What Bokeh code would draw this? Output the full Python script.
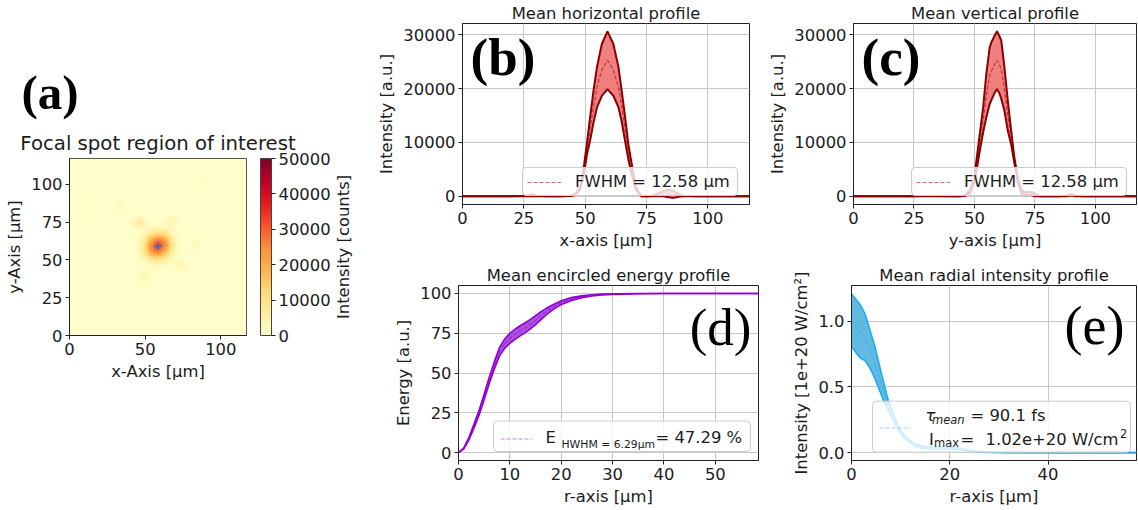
import numpy as np
from bokeh.plotting import figure
from bokeh.models import (Range1d, LinearColorMapper, ColorBar, Label, Legend, BoxAnnotation,
                          LegendItem, NumeralTickFormatter, FixedTicker, Title)
from bokeh.layouts import row, column
from bokeh.embed import file_html
from bokeh.resources import INLINE
from bokeh.palettes import YlOrRd9

SANS = "DejaVu Sans"
SERIF = "Liberation Serif"
INK = "#1c1c1c"
FS = "16.4px"

# ---------------- data ----------------
# (a) focal spot region of interest: spots
roi_size = 117.0
spot_x   = [58.5, 62.5, 54.5, 45.9, 68.0, 33.8, 83.4, 73.5, 49.2, 12.8, 89.0, 20.5]
spot_y   = [59.2, 63.0, 55.5, 74.7, 75.8, 85.7, 60.5, 46.1, 38.4, 83.5, 104.0, 31.8]
spot_amp = [29000, 3500, 3500, 6500, 3500, 2200, 2500, 3000, 3000, 1300, 1100, 900]
spot_sx  = [5.8, 4.2, 4.2, 3.2, 3.0, 3.0, 2.8, 3.5, 3.0, 3.0, 3.0, 3.0]
spot_sy  = [5.8, 4.2, 4.2, 2.8, 3.0, 2.5, 3.0, 3.0, 3.5, 3.0, 3.0, 3.0]
centre_x = [58.5]
centre_y = [59.2]
cbar_ticks = [0, 10000, 20000, 30000, 40000, 50000]
a_xticks = [0, 50, 100]
a_yticks = [0, 25, 50, 75, 100]

# (b) mean horizontal profile
h_x     = [0, 10, 20, 24, 26, 28, 30, 34, 40, 44, 46, 48, 49.6, 50.7, 52, 53.4, 54.8, 56.8, 59.1, 61.5,
           63.6, 64.9, 66.3, 67.6, 69, 70.7, 73, 76, 78, 80, 82, 84, 86, 88, 90, 95, 100, 110, 117]
h_upper = [0, 0, 0, 30, 150, 350, 150, 0, 0, 100, 400, 1700, 5960, 9690, 14660, 19620, 23980, 28320, 30680, 28320,
           23980, 19620, 14660, 9690, 5960, 1620, 0, 0, 200, 600, 1000, 1200, 1000, 500, 100, 0, 0, 0, 0]
h_lower = [0, 0, 0, 0, 0, 0, 0, 0, 0, 30, 250, 1300, 4400, 7700, 10300, 13700, 16520, 18690, 19930, 18690,
           16520, 13900, 10200, 6900, 4000, 1200, 0, 0, 0, 50, 0, -200, -300, -100, 0, 0, 0, 0, 0]
h_mean  = [0, 0, 0, 15, 75, 175, 75, 0, 0, 65, 325, 1500, 5180, 8700, 12480, 16660, 20250, 23500, 25300, 23500,
           20250, 16760, 12430, 8300, 4980, 1410, 0, 0, 100, 350, 500, 500, 350, 200, 50, 0, 0, 0, 0]

# (c) mean vertical profile
v_x     = [0, 10, 20, 25, 30, 35, 40, 44, 46, 48, 49.9, 50.8, 52.2, 53.6, 54.9, 56.3, 57, 58.2, 59.3, 60.2,
           61.1, 62.4, 63.8, 65.2, 66.5, 67.9, 69.5, 71, 73, 75, 77, 80, 85, 88, 90, 92, 95, 100, 110, 117]
v_upper = [0, 0, 0, 0, 100, 50, 0, 0, 200, 1000, 3480, 6580, 11550, 16520, 22730, 27700, 28630, 29700, 30680, 29900,
           28930, 23980, 17750, 12170, 7210, 3480, 1200, 700, 900, 500, 0, 0, 0, 150, 400, 100, 0, 0, 0, 0]
v_lower = [0, 0, 0, 0, 0, 0, 0, 0, 50, 500, 2400, 4600, 8440, 11900, 14650, 17140, 17900, 19100, 19930, 19300,
           18100, 15900, 12170, 9600, 6200, 2700, 500, 200, 300, 0, 0, 0, 0, 0, 150, 0, 0, 0, 0, 0]
v_mean  = [0, 0, 0, 0, 50, 25, 0, 0, 125, 750, 2940, 5590, 10000, 14210, 18690, 22420, 23270, 24400, 25300, 24600,
           23520, 19940, 14960, 10890, 6700, 3090, 850, 450, 600, 250, 0, 0, 0, 75, 280, 50, 0, 0, 0, 0]

# (d) mean encircled energy profile
r_d      = [0, 1, 2, 3, 4, 5, 6, 7, 8, 9, 10, 11, 12, 13, 14, 15, 16, 17, 18, 19,
            20, 22, 24, 26, 28, 30, 35, 40, 45, 50, 58.4]
ee_upper = [0, 2.8, 9.3, 17.7, 26.5, 36.8, 47.5, 57.3, 66.1, 71.4, 74.9, 77.5, 79.7, 81.6, 83.7, 86.0, 88.4, 90.5, 92.3, 93.9,
            95.4, 97.4, 98.5, 99.2, 99.55, 99.75, 99.95, 100, 100, 100, 100]
ee_mean  = [0, 2.5, 8.5, 16.5, 25, 35, 45.5, 55, 63.5, 68.5, 71.8, 74.3, 76.5, 78.5, 80.7, 83.2, 85.9, 88.4, 90.6, 92.5,
            94.2, 96.5, 97.9, 98.8, 99.3, 99.6, 99.9, 100, 100, 100, 100]
ee_lower = [0, 2.2, 7.7, 15.3, 23.5, 33.2, 43.5, 52.7, 60.9, 65.6, 68.7, 71.1, 73.3, 75.4, 77.7, 80.4, 83.4, 86.3, 88.9, 91.1,
            93.0, 95.6, 97.3, 98.4, 99.05, 99.45, 99.85, 100, 100, 100, 100]

# (e) mean radial intensity profile (1e+20 W/cm^2)
r_e      = [0, 1, 1.75, 2.8, 3.8, 4.8, 5.8, 6.8, 7.5, 8.5, 9.5, 11, 12.9, 14, 15.6, 17, 19.6, 22, 24, 26,
            28.8, 32, 40, 50, 58]
ri_upper = [1.207, 1.16, 1.126, 1.05, 0.924, 0.80, 0.646, 0.495, 0.394, 0.30, 0.20, 0.12, 0.07, 0.055, 0.045, 0.045, 0.045, 0.035, 0.02, 0.01,
            0.003, 0.001, 0, 0, 0]
ri_mean  = [1.0, 0.955, 0.92, 0.87, 0.78, 0.68, 0.555, 0.43, 0.355, 0.275, 0.185, 0.11, 0.06, 0.045, 0.038, 0.038, 0.038, 0.028, 0.015, 0.007,
            0.002, 0.0005, 0, 0, 0]
ri_lower = [0.81, 0.755, 0.72, 0.697, 0.64, 0.56, 0.465, 0.37, 0.32, 0.25, 0.17, 0.10, 0.05, 0.035, 0.03, 0.03, 0.03, 0.02, 0.01, 0.004,
            0.001, 0, 0, 0, 0]

prof_xticks = [0, 25, 50, 75, 100]
prof_yticks = [0, 10000, 20000, 30000]
d_xticks = [0, 10, 20, 30, 40, 50]
d_yticks = [0, 25, 50, 75, 100]
e_xticks = [0, 20, 40]
e_yticks = [0, 0.5, 1.0]


# ---------------- helpers ----------------
def make_fig(w, h, xr, yr, bl, br, bt, bb, title="", title_fs=FS, title_standoff=2):
    p = figure(width=w, height=h, x_range=Range1d(*xr), y_range=Range1d(*yr),
               output_backend="svg", toolbar_location=None,
               min_border_left=bl, min_border_right=br, min_border_top=bt, min_border_bottom=bb)
    p.title.text = title
    p.title.text_font = SANS
    p.title.text_font_size = title_fs
    p.title.text_font_style = "normal"
    p.title.text_color = INK
    p.title.align = "center"
    p.title.standoff = title_standoff
    p.outline_line_color = "#222222"
    p.outline_line_width = 1
    p.outline_line_alpha = 1
    p.background_fill_color = "white"
    p.border_fill_color = "white"
    return p


def style_axes(p, xticks, yticks, xlabel, ylabel, grid=True):
    p.xaxis.ticker = FixedTicker(ticks=xticks)
    p.yaxis.ticker = FixedTicker(ticks=yticks)
    p.xaxis.axis_label = xlabel
    p.yaxis.axis_label = ylabel
    for ax in p.axis:
        ax.major_label_text_font = SANS
        ax.major_label_text_font_size = FS
        ax.major_label_text_color = INK
        ax.axis_label_text_font = SANS
        ax.axis_label_text_font_size = FS
        ax.axis_label_text_font_style = "normal"
        ax.axis_label_text_color = INK
        ax.major_tick_in = 0
        ax.major_tick_out = 4
        ax.minor_tick_in = 0
        ax.minor_tick_out = 0
        ax.major_tick_line_color = "#222222"
        ax.axis_line_color = "#222222"
        ax.major_label_standoff = 3
        ax.axis_label_standoff = 4
    if grid:
        p.xgrid.ticker = p.xaxis[0].ticker
        p.ygrid.ticker = p.yaxis[0].ticker
        p.grid.grid_line_color = "#c8c8c8"
        p.grid.grid_line_width = 1
    else:
        p.grid.visible = False


def label(p, x, y, text, size=FS, font=SANS, style="normal", align="left", color=INK):
    p.add_layout(Label(x=x, y=y, x_units="screen", y_units="screen", text=text,
                       text_font=font, text_font_size=size, text_font_style=style,
                       text_color=color, text_align=align, text_baseline="alphabetic",
                       level="overlay"))


def band(p, x, lo, hi, mid, line_col, fill_col, fill_alpha, lw, mean_alpha):
    p.varea(x=x, y1=lo, y2=hi, fill_color=fill_col, fill_alpha=fill_alpha)
    p.line(x=x, y=hi, line_color=line_col, line_width=lw)
    p.line(x=x, y=lo, line_color=line_col, line_width=lw)
    return p.line(x=x, y=mid, line_color=line_col, line_width=1.2, line_alpha=mean_alpha, line_dash="4 2")


LEG_HAS_RADIUS = "border_radius" in Legend.properties()
BOX_HAS_RADIUS = "border_radius" in BoxAnnotation.properties()


def legend(p, r, text, loc, label_w=20, label_h=18, glyph_w=34, pad=4, standoff=14, boxed=True):
    kw = dict(items=[LegendItem(label=text, renderers=[r])], location=loc,
              label_text_font=SANS, label_text_font_size=FS, label_text_color=INK,
              glyph_width=glyph_w, glyph_height=label_h, label_height=label_h, label_width=label_w,
              label_standoff=standoff, padding=pad, margin=0, spacing=0)
    if boxed:
        kw.update(background_fill_color="white", background_fill_alpha=0.8,
                  border_line_color="#cccccc", border_line_width=1, border_line_alpha=1)
        if LEG_HAS_RADIUS:
            kw["border_radius"] = 4
    else:
        kw.update(background_fill_alpha=0, border_line_color=None)
    p.add_layout(Legend(**kw))


def frame_box(p, left, right, bottom, top):
    kw = dict(left=left, right=right, bottom=bottom, top=top,
              left_units="screen", right_units="screen", bottom_units="screen", top_units="screen",
              fill_color="white", fill_alpha=0.8, line_color="#cccccc", line_width=1, line_alpha=1,
              level="annotation")
    if BOX_HAS_RADIUS:
        kw["border_radius"] = 4
    p.add_layout(BoxAnnotation(**kw))


# ---------------- (a) ----------------
pal_base = list(reversed(YlOrRd9))
def _hex(c):
    return np.array([int(c[i:i + 2], 16) for i in (1, 3, 5)], dtype=float)
base_rgb = np.array([_hex(c) for c in pal_base])
t = np.linspace(0, len(base_rgb) - 1, 256)
palette = []
for v in t:
    i = min(int(np.floor(v)), len(base_rgb) - 2)
    f = v - i
    c = base_rgb[i] * (1 - f) + base_rgb[i + 1] * f
    palette.append("#%02x%02x%02x" % tuple(int(round(k)) for k in c))

n = 110
g = (np.arange(n) + 0.5) * roi_size / n
GX, GY = np.meshgrid(g, g)
img = np.zeros((n, n))
for cx, cy, a, sx, sy in zip(spot_x, spot_y, spot_amp, spot_sx, spot_sy):
    img += a * np.exp(-((GX - cx) ** 2 / (2 * sx ** 2) + (GY - cy) ** 2 / (2 * sy ** 2)))

mapper = LinearColorMapper(palette=palette, low=0, high=50000)
pa = make_fig(330, 509, (0, roi_size), (0, roi_size), 69, 84, 158, 174, "(a)")
pa.title.text_font = SERIF
pa.title.text_font_size = "49px"
pa.title.text_font_style = "bold"
pa.title.text_color = "black"
pa.title.align = "left"
pa.title.offset = -48
pa.title.standoff = 14
pa.add_layout(Title(text="Focal spot region of interest", align="center", standoff=7,
                    text_font=SANS, text_font_size="19.7px", text_font_style="normal",
                    text_color=INK), "above")
pa.image(image=[img], x=0, y=0, dw=roi_size, dh=roi_size, color_mapper=mapper)
pa.scatter(x=centre_x, y=centre_y, marker="cross", size=8, line_color="#3d6fb6", line_width=1.6)
style_axes(pa, a_xticks, a_yticks, "x-Axis [µm]", "y-Axis [µm]", grid=False)
cb = ColorBar(color_mapper=mapper, ticker=FixedTicker(ticks=cbar_ticks), location=(191, 0),
              width=11, height=177, padding=0, margin=0,
              major_tick_in=0, major_tick_out=4, major_tick_line_color="#222222",
              major_label_text_font=SANS, major_label_text_font_size=FS, major_label_text_color=INK,
              label_standoff=3, bar_line_color="#444444", border_line_color=None,
              background_fill_alpha=0)
pa.add_layout(cb)

# colour-bar label: a blank strip whose only content is its axis title
pl = figure(width=42, height=509, x_range=Range1d(0, 1), y_range=Range1d(0, 1),
            output_backend="svg", toolbar_location=None,
            min_border_left=18, min_border_right=0, min_border_top=158, min_border_bottom=174)
pl.outline_line_color = None
pl.grid.visible = False
pl.xaxis.visible = False
pl.background_fill_color = "white"
pl.border_fill_color = "white"
ya = pl.yaxis[0]
ya.ticker = FixedTicker(ticks=[])
ya.axis_label = "Intensity [counts]"
ya.axis_label_text_font = SANS
ya.axis_label_text_font_size = FS
ya.axis_label_text_font_style = "normal"
ya.axis_label_text_color = INK
ya.axis_line_color = None
ya.major_tick_out = 0
ya.major_tick_in = 0
ya.minor_tick_out = 0
ya.minor_tick_in = 0
ya.major_label_standoff = 0
ya.axis_label_standoff = 0

# ---------------- (b) ----------------
pb = make_fig(393, 252, (0, 117), (-1530, 32130), 90, 16, 23, 45, "Mean horizontal profile")
style_axes(pb, prof_xticks, prof_yticks, "x-axis [µm]", "Intensity [a.u.]")
mb = band(pb, h_x, h_lower, h_upper, h_mean, "#8b0000", "#ed6a6a", 0.85, 2, 0.55)
legend(pb, mb, "FWHM = 12.58 µm", (60, 8), label_w=158)
label(pb, 8, 148, "(b)", size="53px", font=SERIF, style="bold", color="black")

# ---------------- (c) ----------------
pc = make_fig(372, 252, (0, 117), (-1530, 32130), 86, 1, 23, 45, "Mean vertical profile")
style_axes(pc, prof_xticks, prof_yticks, "y-axis [µm]", "Intensity [a.u.]")
mc = band(pc, v_x, v_lower, v_upper, v_mean, "#8b0000", "#ed6a6a", 0.85, 2, 0.55)
legend(pc, mc, "FWHM = 12.58 µm", (58, 8), label_w=158)
label(pc, 8, 148, "(c)", size="53px", font=SERIF, style="bold", color="black")

# ---------------- (d) ----------------
pd_ = make_fig(393, 257, (0, 58.4), (-5, 105), 86, 7, 33, 47, "Mean encircled energy profile")
style_axes(pd_, d_xticks, d_yticks, "r-axis [µm]", "Energy [a.u.]")
md = band(pd_, r_d, ee_lower, ee_upper, ee_mean, "#9400d3", "#9a35d8", 0.85, 1.6, 0.5)
frame_box(pd_, 35, 292, 9, 39.5)
legend(pd_, md, " ", (42, 12), label_w=199, label_h=19, glyph_w=32, pad=6, boxed=False)
label(pd_, 87, 23, "E")
label(pd_, 103, 16, "HWHM = 6.29µm", size="10.8px")
label(pd_, 197, 23, "= 47.29 %")
label(pd_, 293, 134, "(d)", size="53px", font=SERIF, color="black", align="right")

# ---------------- (e) ----------------
pe = make_fig(372, 257, (0, 58), (-0.06, 1.27), 86, 1, 31, 49, "Mean radial intensity profile")
style_axes(pe, e_xticks, e_yticks, "r-axis [µm]", "Intensity [1e+20 W/cm²]")
pe.yaxis.formatter = NumeralTickFormatter(format="0.0")
me = band(pe, r_e, ri_lower, ri_upper, ri_mean, "#16b0f0", "#46aedd", 0.85, 1.6, 0.5)
frame_box(pe, 21, 279, 8.3, 59.3)
legend(pe, me, " ", (28, 13), label_w=200, label_h=39, glyph_w=32, pad=6, boxed=False)
label(pe, 74, 45.5, "τ", style="italic")
label(pe, 80.5, 41, "mean", size="11.5px", style="italic")
label(pe, 119, 45.5, "= 90.1 fs")
label(pe, 77.4, 21.5, "I")
label(pe, 82.5, 17.5, "max", size="11.5px")
label(pe, 109, 21.5, "=")
label(pe, 134, 21.5, "1.02e+20 W/cm")
label(pe, 268.5, 27, "2", size="11.5px")
label(pe, 273, 135, "(e)", size="54px", font=SERIF, color="black", align="right")

layout = row(pa, pl, column(row(pb, pc), row(pd_, pe)))
open("out.html", "w").write(file_html(layout, INLINE))
